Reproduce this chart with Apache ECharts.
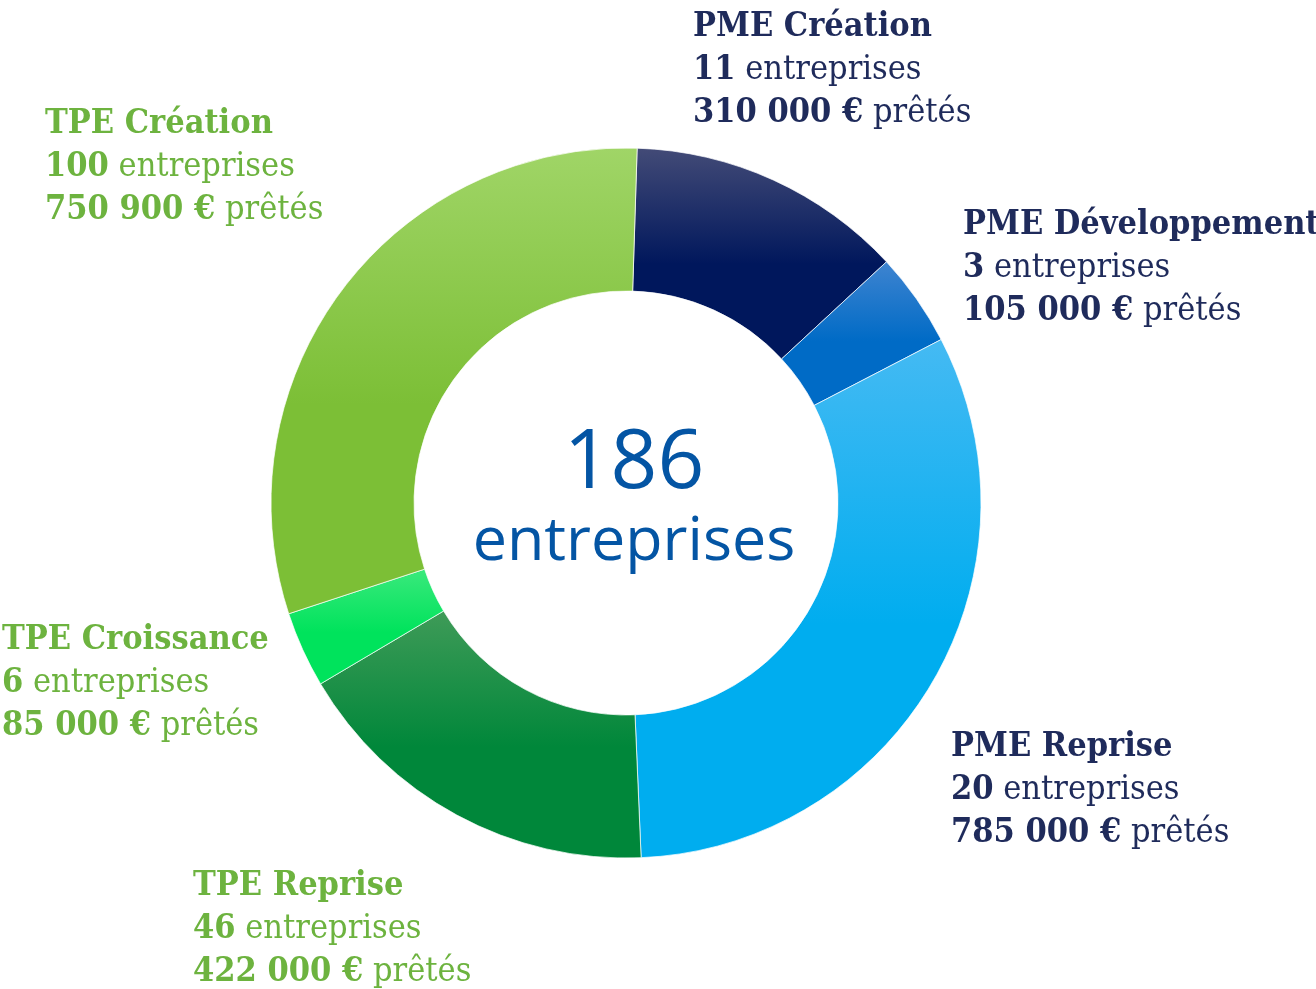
<!DOCTYPE html>
<html>
<head>
<meta charset="utf-8">
<script src="https://cdn.jsdelivr.net/npm/echarts@6/dist/echarts.min.js"></script>
<style>
  html, body { margin: 0; padding: 0; background: #fff; }
  #chart { width: 1316px; height: 989px; }
</style>
</head>
<body>
<div id="chart"></div>
<script>
// data, clockwise from the top
const names = ['PME Création', 'PME Développement', 'PME Reprise', 'TPE Reprise', 'TPE Croissance', 'TPE Création'];
const companies = [11, 3, 20, 46, 6, 100];
const amounts = [310000, 105000, 785000, 422000, 85000, 750900];
const totalLabel = ['186', 'entreprises'];

// look
const topColors = ['#434b77', '#3f84d0', '#45baf3', '#3f9b58', '#3ae97c', '#a0d567'];
const baseColors = ['#00175c', '#006bc6', '#00adef', '#00873a', '#00e35c', '#7cbf36'];
const textColors = ['#1f2b5b', '#1f2b5b', '#1f2b5b', '#6db33f', '#6db33f', '#6db33f'];
// top-left corner of each label block
const labelPos = [[693, 6], [963, 204], [951, 726], [193, 865], [2, 619], [45, 103]];

const chart = echarts.init(document.getElementById('chart'));

function money(v) {
  return String(v).replace(/\B(?=(\d{3})+(?!\d))/g, ' ') + ' €';
}

const seriesData = names.map((n, i) => ({
  name: n,
  value: amounts[i],
  itemStyle: {
    color: new echarts.graphic.LinearGradient(0, 0, 0, 1, [
      {offset: 0, color: topColors[i]},
      {offset: 0.55, color: baseColors[i]},
      {offset: 1, color: baseColors[i]}
    ])
  },
  label: {color: textColors[i]}
}));

const slab = '"DejaVu Serif Condensed", "DejaVu Serif", serif';

chart.setOption({
  animation: false,
  title: {
    text: '{n|' + totalLabel[0] + '}\n{e|' + totalLabel[1] + '}',
    left: 629,
    top: 417,
    textAlign: 'center',
    textStyle: {
      fontWeight: 'normal',
      rich: {
        n: {fontFamily: 'Open Sans', fontSize: 82, fontWeight: 'normal', color: '#0455a4', lineHeight: 86},
        e: {fontFamily: 'Open Sans', fontSize: 61, fontWeight: 'normal', color: '#0455a4', lineHeight: 70}
      }
    }
  },
  series: [
    {
      type: 'pie',
      center: [626, 503],
      radius: [212, 355],
      startAngle: 88.2,
      clockwise: true,
      itemStyle: {borderColor: 'rgba(255,255,255,0.7)', borderWidth: 1},
      label: {
        show: true,
        position: 'outside',
        overflow: 'none',
        fontFamily: slab,
        fontSize: 34,
        lineHeight: 43,
        formatter: p => {
          const i = p.dataIndex;
          return '{t|' + names[i] + '}\n{b|' + companies[i] + '} {r|entreprises}\n{b|' + money(amounts[i]) + '} {r|prêtés}';
        },
        rich: {
          t: {fontFamily: slab, fontSize: 34, fontWeight: 'bold', lineHeight: 43},
          b: {fontFamily: slab, fontSize: 34, fontWeight: 'bold', lineHeight: 43},
          r: {fontFamily: slab, fontSize: 34, fontWeight: 'normal', lineHeight: 43}
        }
      },
      labelLine: {show: false},
      labelLayout: params => ({
        x: labelPos[params.dataIndex][0],
        y: labelPos[params.dataIndex][1],
        align: 'left',
        verticalAlign: 'top',
        width: 400
      }),
      emphasis: {disabled: true},
      data: seriesData
    }
  ]
});
</script>
</body>
</html>
